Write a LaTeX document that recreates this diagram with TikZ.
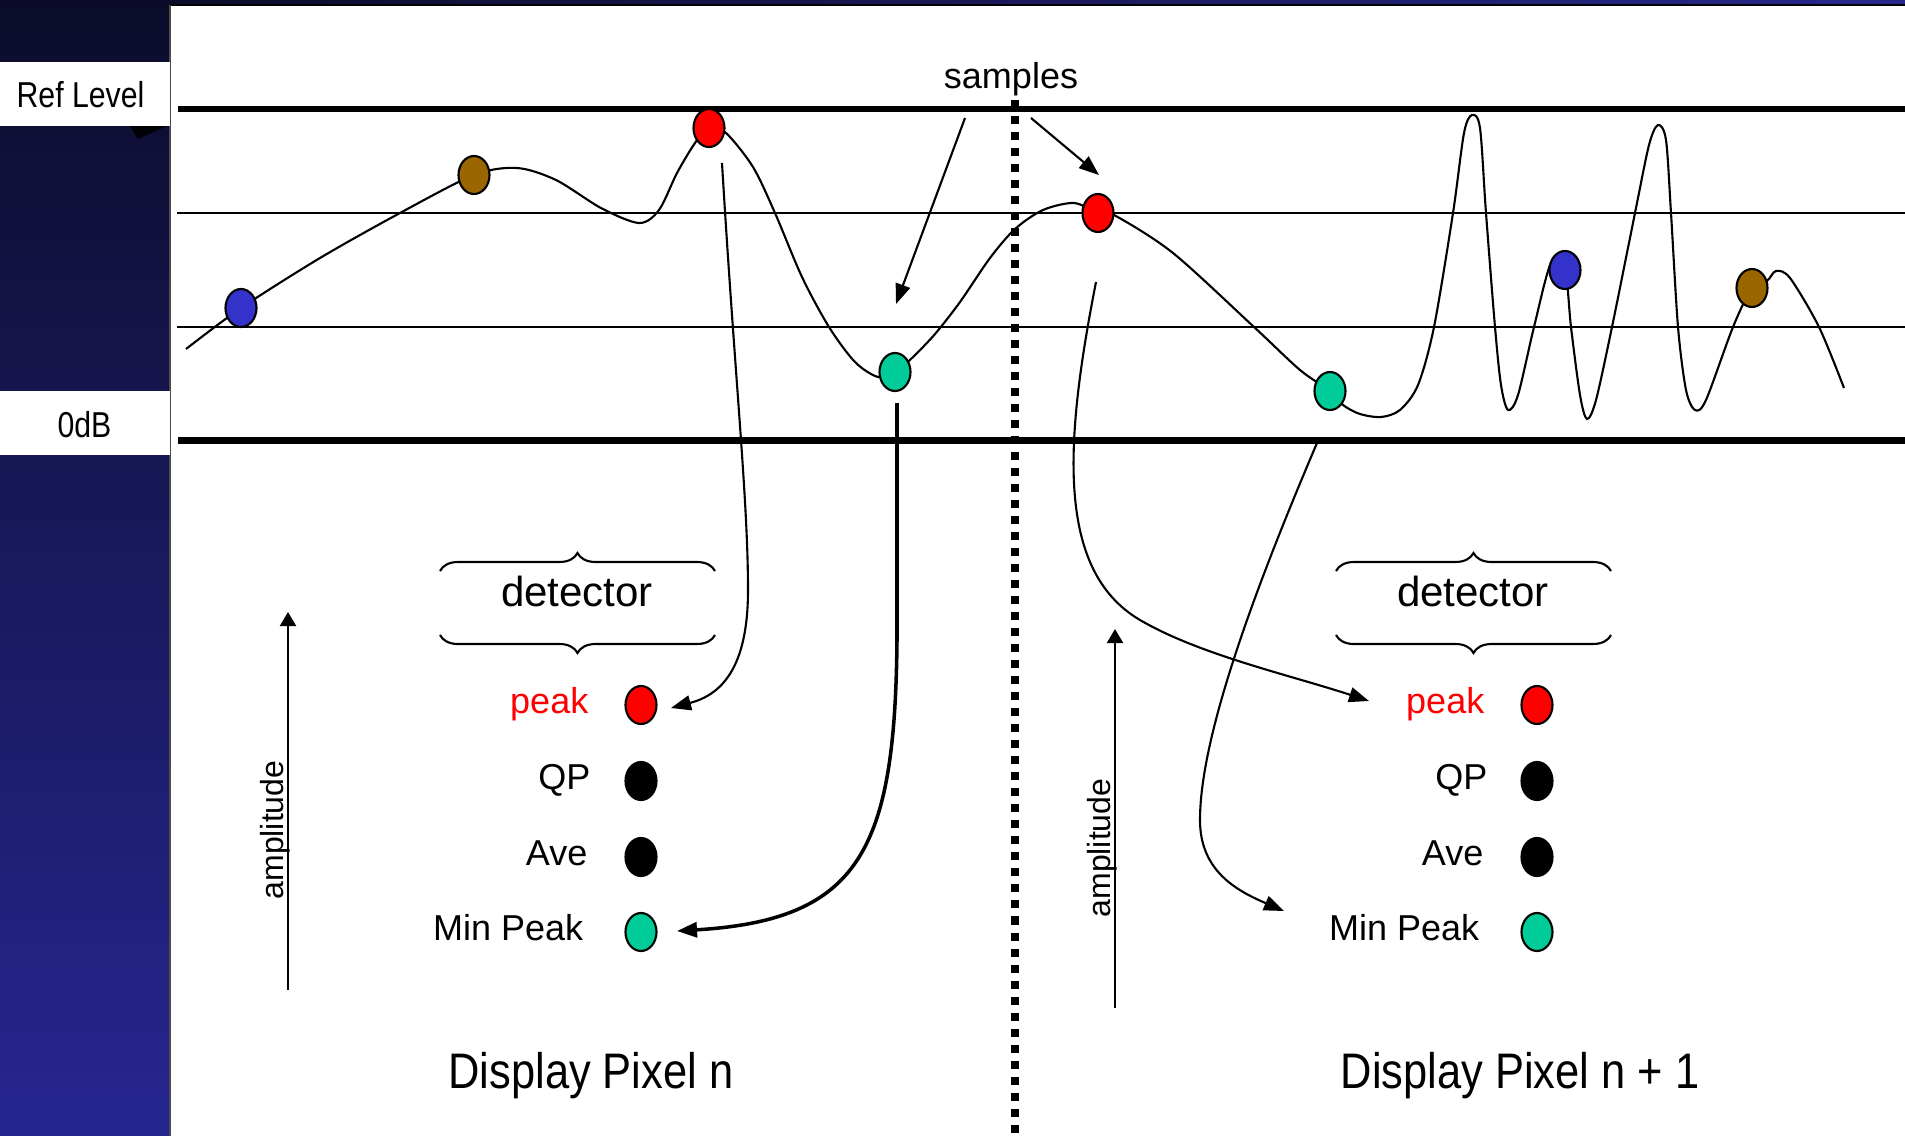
\documentclass[tikz,border=0pt]{standalone}
\usepackage{fontspec}
\setmainfont{Liberation Sans}
\newfontfamily\narrowsans{Liberation Sans}[FakeStretch=0.84]
\newfontfamily\dispsans{Liberation Sans}[FakeStretch=0.87]
\usetikzlibrary{shapes.geometric,arrows.meta,decorations.pathreplacing}
\definecolor{dotblue}{RGB}{51,51,204}
\definecolor{dotbrown}{RGB}{153,102,0}
\definecolor{dotred}{RGB}{255,0,0}
\definecolor{dotgreen}{RGB}{0,204,153}
\definecolor{navytop}{RGB}{12,12,42}
\definecolor{navybot}{RGB}{38,38,145}
\definecolor{navyright}{RGB}{40,40,140}
\begin{document}
\begin{tikzpicture}[x=0.01cm,y=-0.01cm,
  spot/.style={ellipse,draw=black,line width=0.6pt,minimum width=0.31cm,minimum height=0.38cm,inner sep=0pt},
  gridline/.style={line width=0.6pt},
  heavyline/.style={line width=2pt},
  wave/.style={line width=0.6pt},
  conn/.style={line width=0.6pt,-{Triangle[length=0.2cm,width=0.15cm]}},
  ampl/.style={line width=0.6pt,-{Triangle[length=0.14cm,width=0.16cm]}},
  lbl/.style={font=\fontsize{10.24pt}{12pt}\selectfont,anchor=base east,inner sep=0pt},
  dettext/.style={font=\fontsize{11.95pt}{14pt}\selectfont,anchor=base,inner sep=0pt},
  disptext/.style={font=\dispsans\fontsize{14.2pt}{17pt}\selectfont,anchor=base,inner sep=0pt},
  sidetext/.style={font=\narrowsans\fontsize{10.24pt}{12pt}\selectfont,anchor=base,inner sep=0pt},
  amptext/.style={font=\fontsize{9.1pt}{11pt}\selectfont,rotate=90,anchor=base,inner sep=0pt},
  detbrace/.style={line width=0.6pt,decorate,decoration={brace,amplitude=0.18cm,aspect=0.5}},
]
\useasboundingbox (0,0) rectangle (1905,1136);
% backgrounds
\shade[top color=navytop,bottom color=navybot] (0,0) rectangle (171,1136);
\shade[left color=navytop,right color=navyright] (170,0) rectangle (1905,6);
\fill[white] (171,5) rectangle (1905,1136);
\draw[line width=0.6pt] (170,5) -- (1905,5);
\draw[line width=0.6pt,gray!60!black] (170,5) -- (170,1136);
% side boxes
\fill[white] (0,62) rectangle (170,126);
\fill[black!85!navytop] (130,126) -- (138,139) -- (167,126) -- cycle;
\fill[white] (0,391) rectangle (170,455);
\node[sidetext] (reflevel) at (80.5,107) {Ref Level};
\node[sidetext] (zerodb) at (84.5,437) {0dB};
% horizontal lines
\draw[gridline] (177,213) -- (1905,213);
\draw[gridline] (177,327) -- (1905,327);
\draw[line width=1.8pt] (178,109) -- (1905,109);
\draw[heavyline] (178,440.5) -- (1905,440.5);
% pixel boundary
\draw[line width=0.08cm,dash pattern=on 0.08cm off 0.08cm] (1015,100) -- (1015,1136);
% waveform
\draw[wave] plot[smooth,tension=0.5] coordinates {
 (186,349) (241,308) (320,258) (400,213) (474,175) (517,168) (556,180) (601,208) (639,223)
 (659,210) (677,173) (695,143) (709,128) (726,133) (753,167) (775,213) (802,277) (829,327)
 (855,362) (878,377) (895,372) (912,358) (935,334) (960,302) (990,258) (1015,229) (1043,210) (1074,203)
 (1098,213) (1114,215) (1173,253) (1254,327) (1300,370) (1330,391) (1343,405) (1360,414)
 (1381,417) (1400,410) (1418,385) (1434,327) (1453,213) (1464,133) (1472,115) (1480,128)
 (1486,213) (1495,327) (1501,385) (1508,410) (1518,395) (1534,327) (1551,263) (1565,270)
 (1571,327) (1580,395) (1587,419) (1596,400) (1612,327) (1635,213) (1649,145) (1658,125)
 (1666,140) (1671,213) (1678,327) (1686,390) (1695,410) (1706,400) (1733,327) (1752,288)
 (1767,281) (1776,271) (1790,278) (1819,327) (1844,388)};
% samples label and arrows
\node[font=\fontsize{10.24pt}{12pt}\selectfont,anchor=base,inner sep=0pt] (samples) at (1011,88) {samples};
\coordinate (smpA) at (965,118);
\coordinate (smpAt) at (896,304);
\coordinate (smpB) at (1031,118);
\coordinate (smpBt) at (1099,175);
\draw[conn] (smpA) -- (smpAt);
\draw[conn] (smpB) -- (smpBt);
% connectors to detectors
\coordinate (c1s) at (722,163);
\coordinate (c1t) at (671,708);
\draw[conn] (c1s) .. controls (735,380) and (748,500) .. (748,590) .. controls (748,670) and (720,695) .. (c1t);
\coordinate (c2s) at (897,403);
\coordinate (c2t) at (677,931);
\draw[conn,line width=1pt] (c2s) -- (897,640) .. controls (895,850) and (860,920) .. (c2t);
\coordinate (c3s) at (1096,282);
\coordinate (c3t) at (1369,701);
\draw[conn] (c3s) .. controls (1065,440) and (1055,570) .. (1140,620) .. controls (1200,655) and (1290,675) .. (c3t);
\coordinate (c4s) at (1317,443);
\coordinate (c4t) at (1284,911);
\draw[conn] (c4s) .. controls (1250,600) and (1200,740) .. (1200,820) .. controls (1200,870) and (1235,890) .. (c4t);
% amplitude arrows
\coordinate (a1lo) at (288,990);
\coordinate (a1hi) at (288,612);
\draw[ampl] (a1lo) -- (a1hi);
\node[amptext] (amp1) at (283,830) {amplitude};
\coordinate (a2lo) at (1115,1008);
\coordinate (a2hi) at (1115,629);
\draw[ampl] (a2lo) -- (a2hi);
\node[amptext] (amp2) at (1110,848) {amplitude};
% sample dots
\node[spot,fill=dotblue] (b1) at (241,308) {};
\node[spot,fill=dotbrown] (w1) at (474,175) {};
\node[spot,fill=dotred] (r1) at (709,128) {};
\node[spot,fill=dotgreen] (g1) at (895,372) {};
\node[spot,fill=dotred] (r2) at (1098,213) {};
\node[spot,fill=dotgreen] (g2) at (1330,391) {};
\node[spot,fill=dotblue] (b2) at (1565,270) {};
\node[spot,fill=dotbrown] (w2) at (1752,288) {};
% detector legends
\draw[detbrace] (440,571) -- (715,571);
\draw[detbrace] (715,635) -- (440,635);
\node[dettext] (det1) at (577,606) {detector};
\draw[detbrace] (1336,571) -- (1611,571);
\draw[detbrace] (1611,635) -- (1336,635);
\node[dettext] (det2) at (1473,606) {detector};
\node[spot,fill=dotred] (pk1) at (641,705) {};
\node[spot,fill=black] (qp1) at (641,781) {};
\node[spot,fill=black] (av1) at (641,857) {};
\node[spot,fill=dotgreen] (mp1) at (641,932) {};
\node[lbl,text=dotred] (lpk1) at (589,713) {peak};
\node[lbl] (lqp1) at (591,789) {QP};
\node[lbl] (lav1) at (588,865) {Ave};
\node[lbl] (lmp1) at (584,940) {Min Peak};
\node[spot,fill=dotred] (pk2) at (1537,705) {};
\node[spot,fill=black] (qp2) at (1537,781) {};
\node[spot,fill=black] (av2) at (1537,857) {};
\node[spot,fill=dotgreen] (mp2) at (1537,932) {};
\node[lbl,text=dotred] (lpk2) at (1485,713) {peak};
\node[lbl] (lqp2) at (1488,789) {QP};
\node[lbl] (lav2) at (1484,865) {Ave};
\node[lbl] (lmp2) at (1480,940) {Min Peak};
% captions
\node[disptext] (disp1) at (591,1088) {Display Pixel n};
\node[disptext] (disp2) at (1520,1088) {Display Pixel n + 1};
\end{tikzpicture}
\end{document}
